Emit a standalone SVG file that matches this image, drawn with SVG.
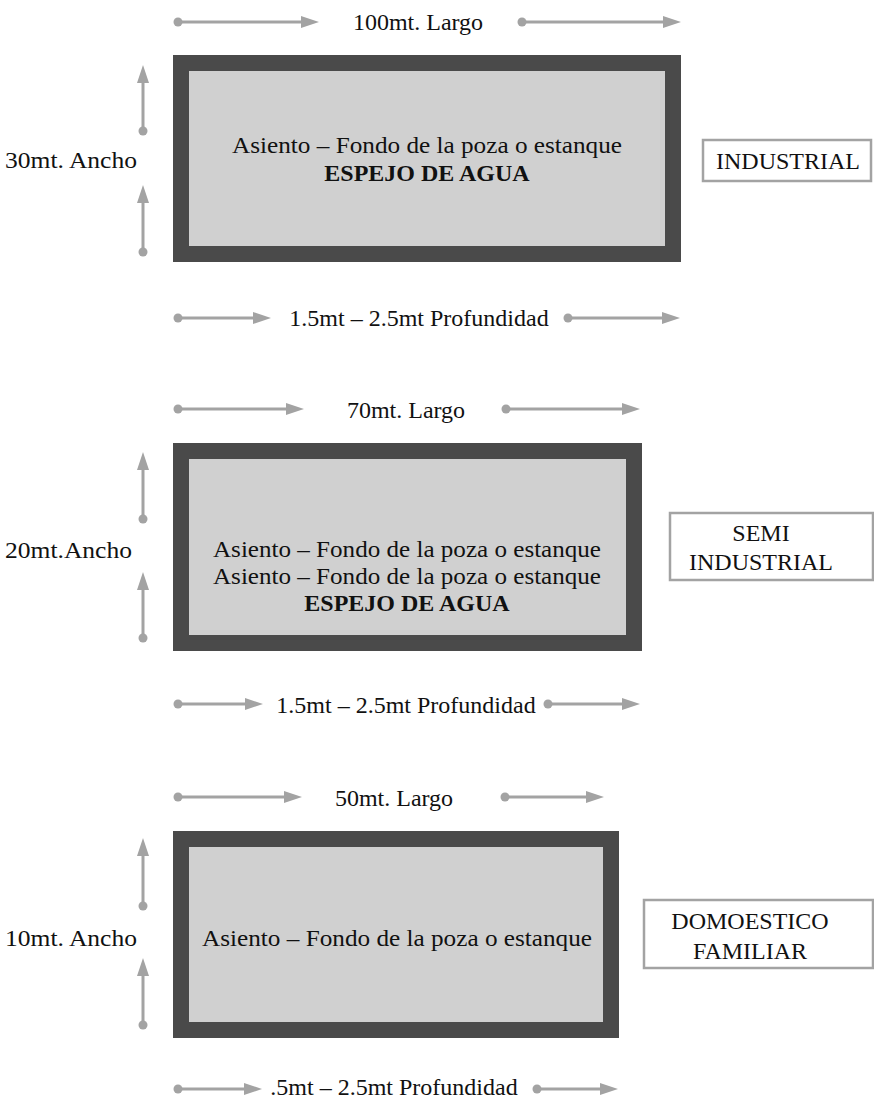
<svg xmlns="http://www.w3.org/2000/svg" width="874" height="1101" viewBox="0 0 874 1101">
<defs>
<marker id="head" markerUnits="userSpaceOnUse" markerWidth="18" markerHeight="12" refX="0" refY="6" orient="auto" overflow="visible"><path d="M0,0 L18,6 L0,12 Z" fill="#a3a3a3"/></marker>
<marker id="dot" markerUnits="userSpaceOnUse" markerWidth="10" markerHeight="10" refX="5" refY="5" orient="auto" overflow="visible"><circle cx="5" cy="5" r="4.5" fill="#a3a3a3"/></marker>
<style>
.pool{fill:#d0d0d0;stroke:#4a4a4a;stroke-width:16}
.lbl{fill:#fff;stroke:#a3a3a3;stroke-width:2.5}
.t{font-family:"Liberation Serif","Times New Roman",serif;font-size:24px;fill:#111}
.c{text-anchor:middle}
.b{font-weight:bold}
.ar{stroke:#a3a3a3;stroke-width:3;fill:none;marker-start:url(#dot);marker-end:url(#head)}
</style>
</defs>
<rect width="874" height="1101" fill="#fff"/>

<g id="pool-industrial">
<rect class="pool" x="181" y="63" width="492" height="191"/>
<text class="t c" x="427" y="153" textLength="390" lengthAdjust="spacingAndGlyphs">Asiento – Fondo de la poza o estanque</text>
<text class="t c b" x="427" y="181">ESPEJO DE AGUA</text>
</g>
<g id="label-industrial">
<rect class="lbl" x="703" y="140" width="168" height="41"/>
<text class="t c" x="788" y="169">INDUSTRIAL</text>
</g>
<g id="dims-industrial">
<text class="t c" x="418" y="30">100mt. Largo</text>
<text class="t" x="5" y="168" textLength="132" lengthAdjust="spacingAndGlyphs">30mt. Ancho</text>
<text class="t c" x="419" y="326">1.5mt – 2.5mt Profundidad</text>
</g>

<g id="pool-semi">
<rect class="pool" x="181" y="451" width="453" height="192"/>
<text class="t c" x="407" y="557" textLength="388" lengthAdjust="spacingAndGlyphs">Asiento – Fondo de la poza o estanque</text>
<text class="t c" x="407" y="584" textLength="388" lengthAdjust="spacingAndGlyphs">Asiento – Fondo de la poza o estanque</text>
<text class="t c b" x="407" y="611">ESPEJO DE AGUA</text>
</g>
<g id="label-semi">
<rect class="lbl" x="670" y="513" width="203" height="67"/>
<text class="t c" x="761" y="541">SEMI</text>
<text class="t c" x="761" y="570">INDUSTRIAL</text>
</g>
<g id="dims-semi">
<text class="t c" x="406" y="418">70mt. Largo</text>
<text class="t" x="5" y="558" textLength="127" lengthAdjust="spacingAndGlyphs">20mt.Ancho</text>
<text class="t c" x="406" y="713">1.5mt – 2.5mt Profundidad</text>
</g>

<g id="pool-domestic">
<rect class="pool" x="181" y="839" width="430" height="191"/>
<text class="t c" x="397" y="946" textLength="390" lengthAdjust="spacingAndGlyphs">Asiento – Fondo de la poza o estanque</text>
</g>
<g id="label-domestic">
<rect class="lbl" x="644" y="900" width="229" height="68"/>
<text class="t c" x="750" y="929">DOMOESTICO</text>
<text class="t c" x="750" y="959">FAMILIAR</text>
</g>
<g id="dims-domestic">
<text class="t c" x="394" y="806">50mt. Largo</text>
<text class="t" x="5" y="946" textLength="132" lengthAdjust="spacingAndGlyphs">10mt. Ancho</text>
<text class="t c" x="394" y="1095">.5mt – 2.5mt Profundidad</text>
</g>

<g id="connectors">
<line class="ar" x1="178" y1="22" x2="301" y2="22"/>
<line class="ar" x1="522" y1="22" x2="663" y2="22"/>
<line class="ar" x1="178" y1="318" x2="253" y2="318"/>
<line class="ar" x1="568" y1="318" x2="662" y2="318"/>
<line class="ar" x1="143" y1="131" x2="143" y2="83"/>
<line class="ar" x1="143" y1="252" x2="143" y2="203"/>
<line class="ar" x1="178" y1="409" x2="286" y2="409"/>
<line class="ar" x1="506" y1="409" x2="622" y2="409"/>
<line class="ar" x1="178" y1="704" x2="245" y2="704"/>
<line class="ar" x1="548" y1="704" x2="622" y2="704"/>
<line class="ar" x1="143" y1="519" x2="143" y2="470"/>
<line class="ar" x1="143" y1="638" x2="143" y2="590"/>
<line class="ar" x1="178" y1="797" x2="284" y2="797"/>
<line class="ar" x1="505" y1="797" x2="586" y2="797"/>
<line class="ar" x1="178" y1="1089" x2="244" y2="1089"/>
<line class="ar" x1="537" y1="1089" x2="600" y2="1089"/>
<line class="ar" x1="143" y1="906" x2="143" y2="856"/>
<line class="ar" x1="143" y1="1025" x2="143" y2="976"/>
</g>
</svg>
